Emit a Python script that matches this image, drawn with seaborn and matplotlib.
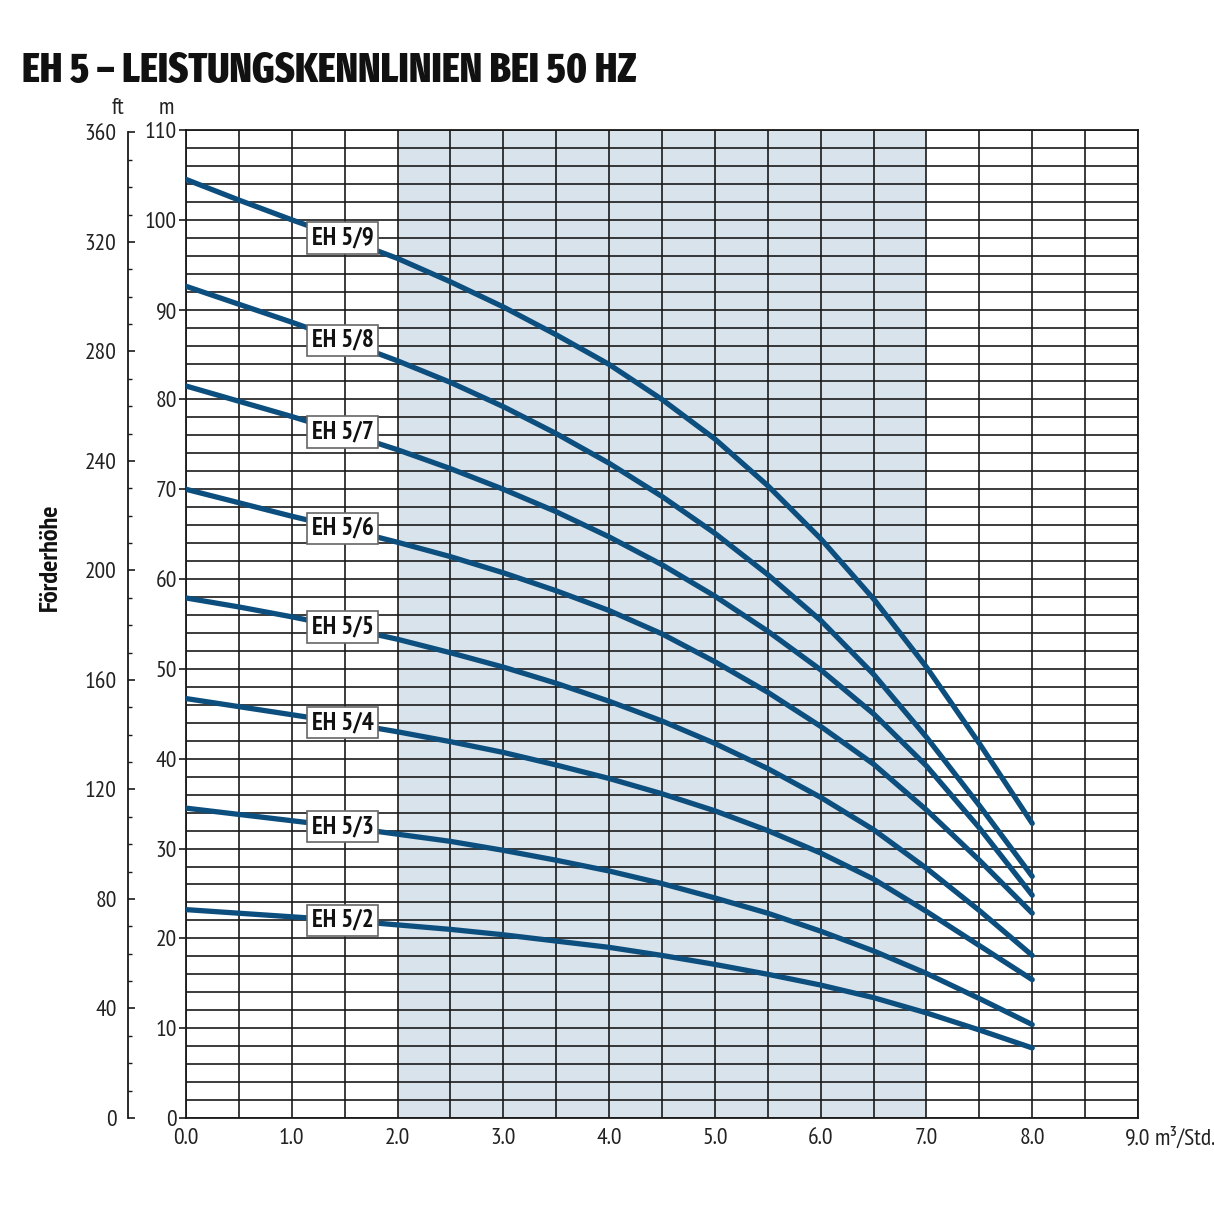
import numpy as np
import pandas as pd
import matplotlib
matplotlib.use("Agg")
import matplotlib.pyplot as plt
import seaborn as sns
from matplotlib.font_manager import fontManager

# flow rate in m3/h
q = [0.0, 0.5, 1.0, 1.5, 2.0, 2.5, 3.0, 3.5, 4.0, 4.5, 5.0, 5.5, 6.0, 6.5, 7.0, 7.5, 8.0]

# head in m
h_eh5_9 = [104.5, 102.2, 100.0, 97.9, 95.7, 93.1, 90.3, 87.2, 83.9, 80.0, 75.6, 70.4, 64.5, 57.8, 50.2, 41.7, 32.8]
h_eh5_8 = [92.6, 90.6, 88.6, 86.5, 84.3, 81.9, 79.2, 76.2, 72.9, 69.2, 65.1, 60.5, 55.4, 49.4, 42.4, 34.8, 26.9]
h_eh5_7 = [81.5, 79.8, 78.1, 76.3, 74.4, 72.3, 70.0, 67.5, 64.7, 61.6, 58.1, 54.2, 49.9, 45.0, 39.2, 32.3, 24.8]
h_eh5_6 = [70.0, 68.5, 67.0, 65.6, 64.1, 62.5, 60.7, 58.7, 56.5, 53.9, 50.8, 47.4, 43.6, 39.4, 34.3, 28.7, 22.8]
h_eh5_5 = [57.9, 56.9, 55.8, 54.6, 53.3, 51.8, 50.2, 48.4, 46.4, 44.2, 41.7, 38.9, 35.7, 32.1, 27.8, 23.1, 18.1]
h_eh5_4 = [46.7, 45.8, 44.9, 44.0, 43.0, 41.9, 40.7, 39.3, 37.8, 36.1, 34.2, 32.0, 29.5, 26.6, 23.0, 19.2, 15.4]
h_eh5_3 = [34.5, 33.8, 33.1, 32.4, 31.6, 30.8, 29.8, 28.7, 27.5, 26.1, 24.5, 22.8, 20.8, 18.6, 16.1, 13.3, 10.4]
h_eh5_2 = [23.2, 22.8, 22.4, 22.0, 21.5, 21.0, 20.4, 19.7, 19.0, 18.1, 17.1, 16.0, 14.8, 13.4, 11.7, 9.8, 7.8]

pumps = ["EH 5/9", "EH 5/8", "EH 5/7", "EH 5/6", "EH 5/5", "EH 5/4", "EH 5/3", "EH 5/2"]
heads = [h_eh5_9, h_eh5_8, h_eh5_7, h_eh5_6, h_eh5_5, h_eh5_4, h_eh5_3, h_eh5_2]

x_ticks = [0, 1, 2, 3, 4, 5, 6, 7, 8, 9]
x_labels = ["0.0", "1.0", "2.0", "3.0", "4.0", "5.0", "6.0", "7.0", "8.0", "9.0"]
m_ticks = [0, 10, 20, 30, 40, 50, 60, 70, 80, 90, 100, 110]
ft_ticks = [0, 40, 80, 120, 160, 200, 240, 280, 320, 360]

rows = []
for name, h in zip(pumps, heads):
    for qi, hi in zip(q, h):
        rows.append({"pump": name, "q": qi, "h": hi})
df = pd.DataFrame(rows)


def pick(cands):
    names = {f.name for f in fontManager.ttflist}
    for c in cands:
        if c in names:
            return c
    return "DejaVu Sans"


body_font = pick(["PT Sans Narrow", "Roboto Condensed", "Open Sans Condensed", "Liberation Sans Narrow"])
title_font = pick(["Fira Sans Extra Condensed", "Barlow Condensed", "Roboto Condensed", "PT Sans Narrow"])

sns.set_theme(style="white")
plt.rcParams["font.family"] = [body_font, "DejaVu Sans"]

W, H = 1214, 1214
fig = plt.figure(figsize=(W / 100, H / 100), dpi=100)
ax = fig.add_axes([186 / W, 1 - 1118 / H, (1138 - 186) / W, (1118 - 130) / H])

blue = "#0c4f7e"
grid_c = "#1a1a1a"
txt_c = "#222222"
tick_fs = 17

ax.axvspan(2.0, 7.0, color="#d9e3ec", zorder=0.1, lw=0)

ax.set_xlim(0, 9)
ax.set_ylim(0, 110)
ax.set_xticks(x_ticks)
ax.set_xticklabels(x_labels)
ax.set_xticks(np.arange(0, 9.01, 0.5), minor=True)
ax.set_yticks(m_ticks)
ax.set_yticks(np.arange(0, 110.1, 2), minor=True)
ax.set_axisbelow(True)
ax.grid(True, which="both", color=grid_c, lw=1.2)
for s in ax.spines.values():
    s.set_color(grid_c)
    s.set_linewidth(1.3)
ax.tick_params(axis="y", which="major", direction="out", length=5, width=1.2,
               color=grid_c, pad=1.5, labelsize=tick_fs, labelcolor=txt_c)
ax.tick_params(axis="y", which="minor", length=0)
ax.tick_params(axis="x", which="major", direction="out", length=3, width=1.2,
               color=grid_c, pad=4, labelsize=tick_fs, labelcolor=txt_c)
ax.tick_params(axis="x", which="minor", length=0)
ax.annotate("m³/Std.", xy=(9, 0), xytext=(12, -6.5), textcoords="offset points",
            ha="left", va="top", fontsize=tick_fs, color=txt_c)

sns.lineplot(data=df, x="q", y="h", units="pump", estimator=None, sort=False,
             color=blue, linewidth=3.8, solid_capstyle="round", ax=ax, zorder=3)
ax.set_xlabel("")
ax.set_ylabel("")

# pump labels sitting on the curves
lab_x = 1.48
for name, h in zip(pumps, heads):
    ax.text(lab_x, np.interp(lab_x, q, h), name, ha="center", va="center",
            fontsize=18, fontweight="bold", color="#111", zorder=4,
            bbox=dict(boxstyle="square,pad=0.17", fc="white", ec="#666", lw=1.2))

# secondary feet axis
ax2 = ax.twinx()
ax2.set_ylim(0, 110 * 3.28084)
for s in ax2.spines.values():
    s.set_visible(False)
ax2.spines["left"].set_visible(True)
ax2.spines["left"].set_position(("outward", 42))
ax2.spines["left"].set_bounds(0, 360)
ax2.spines["left"].set_color(grid_c)
ax2.spines["left"].set_linewidth(1.3)
ax2.yaxis.tick_left()
ax2.set_yticks(ft_ticks)
ax2.set_yticks(np.arange(0, 361, 10), minor=True)
ax2.tick_params(axis="y", which="major", direction="in", length=5, width=1.2,
                color=grid_c, pad=8, labelsize=tick_fs, labelcolor=txt_c)
ax2.tick_params(axis="y", which="minor", direction="in", length=3, width=1.0, color=grid_c)
ax2.grid(False)

fig.text(118 / W, 1 - 109 / H, "ft", ha="center", va="center", fontsize=tick_fs, color=txt_c)
fig.text(166 / W, 1 - 109 / H, "m", ha="center", va="center", fontsize=tick_fs, color=txt_c)
fig.text(50 / W, 1 - 557 / H, "Förderhöhe", ha="center", va="center", rotation=90,
         fontsize=19, fontweight="bold", color="#111")

title = fig.text(22 / W, 1 - 82 / H, "EH 5 – LEISTUNGSKENNLINIEN BEI 50 HZ",
                 ha="left", va="baseline", fontsize=40, fontweight="heavy", color="#111",
                 family=[title_font, "DejaVu Sans"])
fig.canvas.draw()
bb = title.get_window_extent()
title.set_fontsize(40 * 614 / bb.width)

fig.savefig("out.png", dpi=100, facecolor="white")
